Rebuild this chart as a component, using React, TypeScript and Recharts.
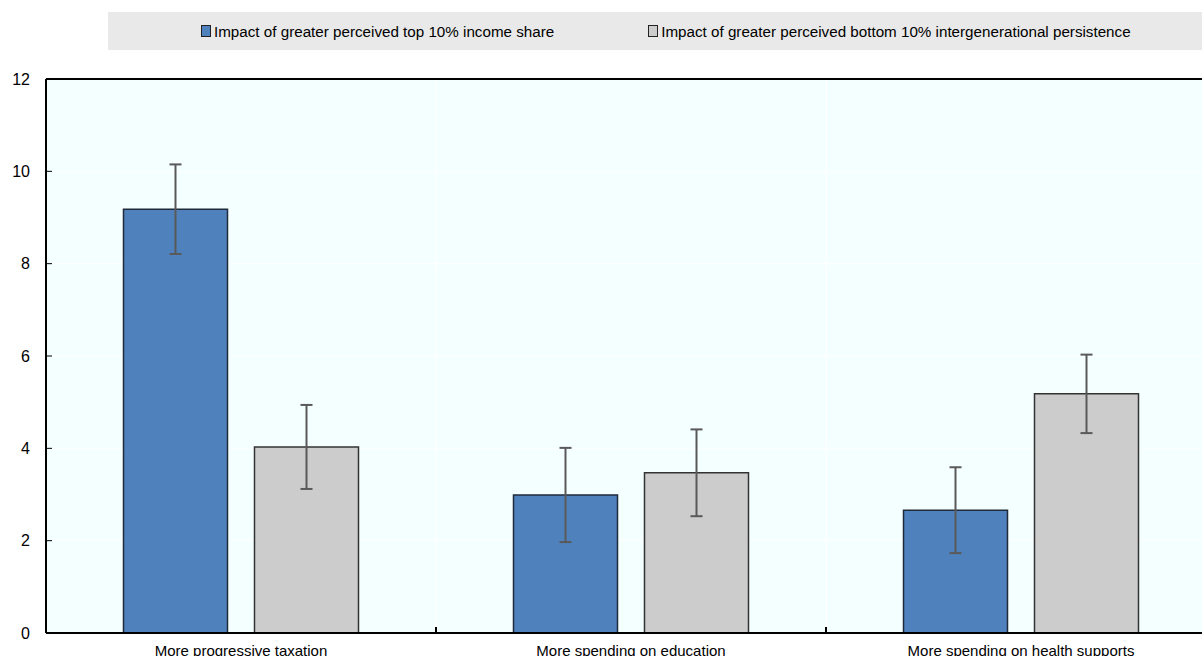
import React from "react";
import {
  BarChart,
  Bar,
  XAxis,
  YAxis,
  CartesianGrid,
  ErrorBar,
  Legend,
  ReferenceLine,
} from "recharts";

const categories = [
  "More progressive taxation",
  "More spending on education",
  "More spending on health supports",
];
const topIncomeShare = [9.18, 2.99, 2.66];
const topIncomeShareErr = [0.97, 1.02, 0.93];
const bottomPersistence = [4.03, 3.47, 5.18];
const bottomPersistenceErr = [0.91, 0.94, 0.85];
const yTicks = [0, 2, 4, 6, 8, 10, 12];
const boundaryTicks = [0, 1, 2, 3];
const innerBoundaries = [1, 2];

const seriesNames = [
  "Impact of greater perceived top 10% income share",
  "Impact of greater perceived bottom 10% intergenerational persistence",
];
const colors = ["#4F81BD", "#CCCCCC"];

const data = categories.map((c, i) => ({
  name: c,
  idx: i + 0.5,
  top: topIncomeShare[i],
  topErr: topIncomeShareErr[i],
  bottom: bottomPersistence[i],
  bottomErr: bottomPersistenceErr[i],
}));

const LegendContent = () => (
  <div
    style={{
      background: "#E9E9E9",
      height: 38,
      display: "flex",
      alignItems: "center",
      justifyContent: "flex-start",
      fontFamily: "Arial, 'Liberation Sans', sans-serif",
      fontSize: 15.2,
      color: "#000",
    }}
  >
    {seriesNames.map((n, i) => (
      <div
        key={n}
        style={{
          display: "flex",
          alignItems: "center",
          marginLeft: i === 0 ? 93 : 94,
          whiteSpace: "nowrap",
        }}
      >
        <span
          style={{
            display: "inline-block",
            width: 8,
            height: 10,
            background: colors[i],
            border: "1px solid #222",
            marginRight: 3,
          }}
        />
        <span>{n}</span>
      </div>
    ))}
  </div>
);

export default function App() {
  return (
    <div
      style={{
        position: "absolute",
        left: 0,
        top: 0,
        width: 1202,
        height: 656,
        overflow: "hidden",
        background: "#fff",
      }}
    >
      <BarChart
        width={1230}
        height={670}
        data={data}
        margin={{ top: 41, right: 14, bottom: 0, left: 0 }}
        barCategoryGap={77.5}
        barGap={27}
      >
        <XAxis
          xAxisId="b"
          dataKey="idx"
          type="number"
          domain={[0, 3]}
          ticks={boundaryTicks}
          hide
        />
        <CartesianGrid
          xAxisId="b"
          stroke="#FFFFFF"
          strokeWidth={1}
          fill="#F4FFFF"
          vertical={true}
          horizontal={true}
        />
        <XAxis
          dataKey="name"
          height={37}
          axisLine={{ stroke: "#000", strokeWidth: 2 }}
          tickLine={false}
          tickMargin={6}
          tick={{
            fill: "#000",
            fontSize: 15,
            fontFamily: "Arial, 'Liberation Sans', sans-serif",
          }}
        />
        <YAxis
          width={46}
          domain={[0, 12]}
          ticks={yTicks}
          interval={0}
          axisLine={{ stroke: "#000", strokeWidth: 2 }}
          tickSize={-6}
          tickMargin={22}
          tickLine={{ stroke: "#000", strokeWidth: 1 }}
          tick={{
            fill: "#000",
            fontSize: 16,
            fontFamily: "Arial, 'Liberation Sans', sans-serif",
          }}
        />
        {innerBoundaries.map((b) => (
          <ReferenceLine
            key={"g" + b}
            xAxisId="b"
            x={b}
            stroke="#FFFFFF"
            strokeWidth={1}
          />
        ))}
        {innerBoundaries.map((b) => (
          <ReferenceLine
            key={"t" + b}
            xAxisId="b"
            segment={[
              { x: b, y: 0 },
              { x: b, y: 0.13 },
            ]}
            stroke="#000"
            strokeWidth={2}
          />
        ))}
        <ReferenceLine y={12} stroke="#000" strokeWidth={2} />
        <Legend
          verticalAlign="top"
          content={<LegendContent />}
          wrapperStyle={{ position: "absolute", top: 12, left: 108, width: 1122, height: 38 }}
        />
        <Bar
          dataKey="top"
          name={seriesNames[0]}
          fill={colors[0]}
          stroke="#1F2A3A"
          strokeWidth={1.5}
          isAnimationActive={false}
        >
          <ErrorBar dataKey="topErr" width={6} stroke="#595959" strokeWidth={2} />
        </Bar>
        <Bar
          dataKey="bottom"
          name={seriesNames[1]}
          fill={colors[1]}
          stroke="#333333"
          strokeWidth={1.5}
          isAnimationActive={false}
        >
          <ErrorBar dataKey="bottomErr" width={6} stroke="#595959" strokeWidth={2} />
        </Bar>
      </BarChart>
    </div>
  );
}
